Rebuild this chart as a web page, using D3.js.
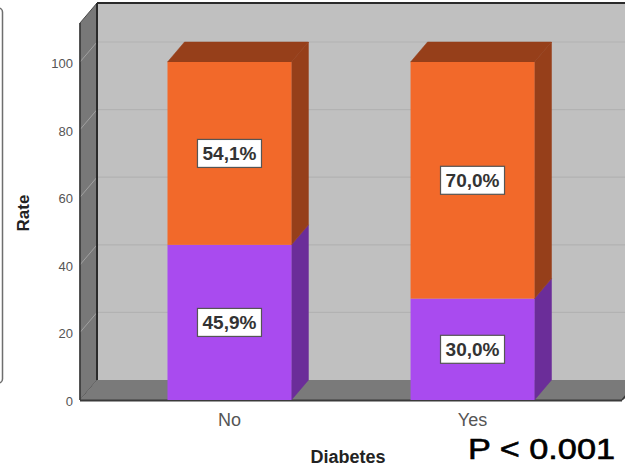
<!DOCTYPE html>
<html>
<head>
<meta charset="utf-8">
<script src="https://cdn.jsdelivr.net/npm/d3@7"></script>
<style>
  html, body { margin: 0; padding: 0; background: #fff; }
  svg { display: block; }
</style>
</head>
<body>
<svg id="chart" width="625" height="471"></svg>
<script>
// Stacked 3D bar chart: outcome share by diabetes status
const categories = ["No", "Yes"];
const lowerShare = [45.9, 30.0];   // purple segment (%)
const upperShare = [54.1, 70.0];   // orange segment (%)
const lowerLabels = ["45,9%", "30,0%"];
const upperLabels = ["54,1%", "70,0%"];
const yTicks = [0, 20, 40, 60, 80, 100];

const svg = d3.select("#chart");
const W = 625;

// front plane geometry and depth offset of the 3D box
const DX = 17, DY = -20;
const left = 80, right = 622, floorY = 400, wallTopY = 23;

const y = d3.scaleLinear().domain([0, 100]).range([floorY, 62]);
const x = d3.scaleBand().domain(categories).range([left, right])
  .paddingInner(0.49).paddingOuter(0.36);

// partial frame of a neighbouring panel at the left edge
svg.append("rect").attr("x", -12).attr("y", 8).attr("width", 14.5).attr("height", 375)
  .attr("rx", 4).attr("fill", "#fff").attr("stroke", "#6e6e6e").attr("stroke-width", 1.5);

// back wall
svg.append("rect").attr("x", left + DX).attr("y", wallTopY + DY)
  .attr("width", W + 40 - (left + DX)).attr("height", floorY + DY - (wallTopY + DY))
  .attr("fill", "#c0c0c0");

// back wall grid lines
svg.append("g").selectAll("line").data(yTicks.filter(d => d > 0)).join("line")
  .attr("x1", left + DX).attr("x2", W + 40)
  .attr("y1", d => y(d) + DY).attr("y2", d => y(d) + DY)
  .attr("stroke", "#b2b2b2").attr("stroke-width", 1.2);

// left side wall
svg.append("polygon")
  .attr("points", [[left, wallTopY], [left + DX, wallTopY + DY], [left + DX, floorY + DY], [left, floorY]].join(" "))
  .attr("fill", "#787878").attr("stroke", "#4a4a4a").attr("stroke-width", 1);

// diagonal grid lines on the side wall
svg.append("g").selectAll("line").data(yTicks.filter(d => d > 0)).join("line")
  .attr("x1", left).attr("x2", left + DX)
  .attr("y1", d => y(d)).attr("y2", d => y(d) + DY)
  .attr("stroke", "#a0a0a0").attr("stroke-width", 1);

// floor
svg.append("polygon")
  .attr("points", [[left, floorY], [left + DX, floorY + DY], [W + 40, floorY + DY], [right, floorY]].join(" "))
  .attr("fill", "#7a7a7a");

// frame edges
svg.append("line").attr("x1", left + DX).attr("x2", W + 40)
  .attr("y1", wallTopY + DY).attr("y2", wallTopY + DY)
  .attr("stroke", "#2a2a2a").attr("stroke-width", 2);
svg.append("line").attr("x1", left + DX).attr("x2", left + DX)
  .attr("y1", wallTopY + DY).attr("y2", floorY + DY)
  .attr("stroke", "#2a2a2a").attr("stroke-width", 2);
svg.append("line").attr("x1", left).attr("x2", right)
  .attr("y1", floorY + 0.5).attr("y2", floorY + 0.5)
  .attr("stroke", "#3a3a3a").attr("stroke-width", 2);
svg.append("line").attr("x1", right).attr("x2", right + DX)
  .attr("y1", floorY).attr("y2", floorY + DY)
  .attr("stroke", "#3a3a3a").attr("stroke-width", 1.5);
svg.append("line").attr("x1", left).attr("x2", left)
  .attr("y1", wallTopY).attr("y2", floorY)
  .attr("stroke", "#3a3a3a").attr("stroke-width", 1.5);

// stacked data
const stacks = categories.map((c, i) => ({
  cat: c,
  segs: [
    { y0: 0, y1: lowerShare[i], front: "#a94bef", dark: "#6b2d99", label: lowerLabels[i] },
    { y0: lowerShare[i], y1: lowerShare[i] + upperShare[i], front: "#f2692a", dark: "#963f1a", label: upperLabels[i] }
  ]
}));

const bars = svg.append("g");
stacks.forEach(s => {
  const x0 = x(s.cat), bw = x.bandwidth(), x1 = x0 + bw;
  s.segs.forEach((seg, k) => {
    const yt = y(seg.y1), yb = y(seg.y0);
    // side face
    bars.append("polygon")
      .attr("points", [[x1, yt], [x1 + DX, yt + DY], [x1 + DX, yb + DY], [x1, yb]].join(" "))
      .attr("fill", seg.dark).attr("stroke", seg.dark).attr("stroke-width", 0.5);
    // top face on the uppermost segment
    if (k === s.segs.length - 1) {
      bars.append("polygon")
        .attr("points", [[x0, yt], [x0 + DX, yt + DY], [x1 + DX, yt + DY], [x1, yt]].join(" "))
        .attr("fill", seg.dark).attr("stroke", seg.dark).attr("stroke-width", 0.5);
    }
    // front face
    bars.append("rect").attr("x", x0).attr("y", yt).attr("width", bw).attr("height", yb - yt)
      .attr("fill", seg.front);
  });
});

// value labels
const lab = svg.append("g");
stacks.forEach(s => {
  const cx = x(s.cat) + x.bandwidth() / 2;
  s.segs.forEach(seg => {
    const cy = (y(seg.y0) + y(seg.y1)) / 2;
    lab.append("rect").attr("x", cx - 32).attr("y", cy - 14).attr("width", 64).attr("height", 28)
      .attr("fill", "#fff").attr("stroke", "#555").attr("stroke-width", 1.2);
    lab.append("text").attr("x", cx).attr("y", cy + 7)
      .attr("text-anchor", "middle")
      .attr("font-family", "Liberation Sans, Arial, sans-serif")
      .attr("font-weight", "bold").attr("font-size", 19).attr("fill", "#333")
      .text(seg.label);
  });
});

// y tick labels
svg.append("g").selectAll("text").data(yTicks).join("text")
  .attr("x", 73).attr("y", d => y(d) + 6)
  .attr("text-anchor", "end")
  .attr("font-family", "Liberation Sans, Arial, sans-serif")
  .attr("font-size", 13).attr("fill", "#555")
  .text(d => d);

// category labels
svg.append("g").selectAll("text").data(categories).join("text")
  .attr("x", d => x(d) + x.bandwidth() / 2).attr("y", 426)
  .attr("text-anchor", "middle")
  .attr("font-family", "Liberation Sans, Arial, sans-serif")
  .attr("font-size", 18).attr("fill", "#555")
  .text(d => d);

// axis titles
svg.append("text").attr("transform", "translate(29,213) rotate(-90)")
  .attr("text-anchor", "middle")
  .attr("font-family", "Liberation Sans, Arial, sans-serif")
  .attr("font-weight", "bold").attr("font-size", 17).attr("fill", "#222")
  .text("Rate");

svg.append("text").attr("x", 348).attr("y", 463)
  .attr("text-anchor", "middle")
  .attr("font-family", "Liberation Sans, Arial, sans-serif")
  .attr("font-weight", "bold").attr("font-size", 18).attr("fill", "#222")
  .text("Diabetes");

// significance note
svg.append("text").attr("x", 468).attr("y", 459)
  .attr("font-family", "Liberation Sans, Arial, sans-serif")
  .attr("font-size", 29).attr("fill", "#000")
  .attr("stroke", "#000").attr("stroke-width", 0.6)
  .attr("textLength", 147).attr("lengthAdjust", "spacingAndGlyphs")
  .text("P < 0.001");
</script>
</body>
</html>
